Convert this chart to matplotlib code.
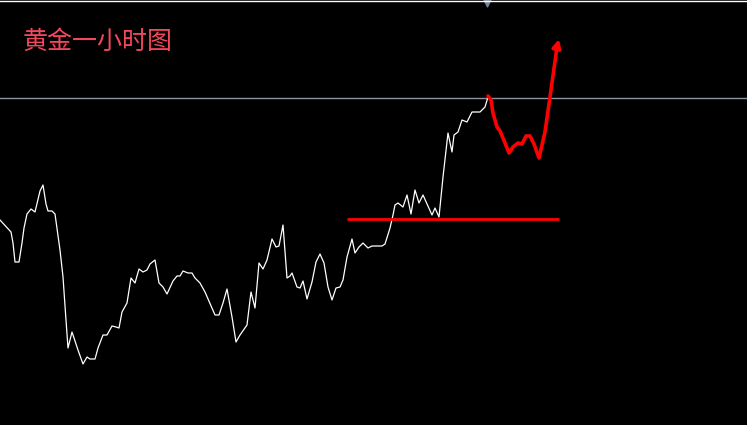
import matplotlib
matplotlib.use("Agg")
import matplotlib.pyplot as plt

plt.rcParams['font.family'] = ['Noto Sans CJK SC', 'DejaVu Sans']

# price line (chart units, y grows downward like the screen)
price_x = [0, 11, 13, 15, 19, 22, 24, 27, 31, 35, 40, 43, 46, 48, 52, 55, 60, 63, 66, 68,
           72, 78, 83, 87, 90, 95, 98, 103, 107, 112, 116, 119, 122, 127, 131, 135, 139, 143,
           147, 150, 155, 159, 163, 167, 173, 177, 180, 183, 188, 192, 195, 200, 205, 215,
           219, 223, 227, 232, 236, 240, 247, 251, 255, 259, 263, 267, 272, 276, 279, 283,
           287, 290, 292, 297, 300, 303, 307, 312, 316, 320, 324, 328, 332, 336, 340, 343,
           347, 352, 355, 359, 363, 368, 372, 382, 385, 390, 393, 395, 398, 403, 407, 411,
           415, 419, 423, 432, 435, 439, 443, 448, 452, 454, 458, 462, 467, 472, 480, 485, 488]
price_y = [220, 232, 243, 262, 262, 243, 228, 214, 209, 212, 191, 185, 204, 211, 211, 214,
           250, 277, 320, 348, 332, 350, 364, 357, 359, 359, 348, 335, 335, 326, 327, 328,
           312, 303, 278, 283, 269, 272, 270, 264, 260, 283, 287, 294, 281, 276, 276, 271,
           273, 273, 278, 283, 292, 315, 315, 303, 289, 317, 342, 335, 325, 292, 308, 263,
           269, 260, 239, 247, 246, 225, 278, 276, 273, 287, 288, 281, 299, 282, 262, 254,
           263, 287, 300, 288, 287, 280, 257, 239, 253, 247, 243, 248, 246, 246, 244, 228,
           215, 205, 203, 207, 195, 214, 190, 203, 195, 215, 208, 217, 177, 133, 152, 135,
           132, 120, 122, 112, 112, 107, 97]

# hand drawn forecast path
fc_x = [488, 491, 493, 497, 500, 505, 509, 513, 518, 522, 526, 530, 534, 539, 545, 550, 557]
fc_y = [96, 100, 113, 127, 131, 143, 153, 147, 143, 144, 136, 136, 144, 158, 132, 97, 47]
arrow_tip = (559, 39)

resist_level = 98
support_level = 219
support_span = (347, 559)

title = "黄金一小时图"

fig = plt.figure(figsize=(7.47, 4.25), dpi=100, facecolor='black')
ax = fig.add_axes([0, 0, 1, 1])
ax.set_facecolor('black')
ax.set_xlim(0, 747)
ax.set_ylim(425, 0)
ax.axis('off')

ax.axhline(resist_level, color='#8a95a3', linewidth=1)
ax.plot(price_x, price_y, color='white', linewidth=0.9)
ax.hlines(support_level, support_span[0], support_span[1], color='#ff0000', linewidth=2)
ax.plot(fc_x, fc_y, color='#ff0000', linewidth=2.6, solid_capstyle='round')
ax.annotate('', xy=arrow_tip, xytext=(fc_x[-1], fc_y[-1]),
            arrowprops=dict(arrowstyle='-|>', color='#ff0000', lw=2.6,
                            mutation_scale=12, shrinkA=0, shrinkB=0))

# small marker at top
ax.scatter([487], [2], marker='v', s=40, color='#7a8595', clip_on=False)
ax.axhline(0.5, color='white', linewidth=1)

ax.text(23, 42, title, color='#f2475c', fontsize=18, va='center', ha='left')

fig.savefig('out.png', dpi=100, facecolor='black')
